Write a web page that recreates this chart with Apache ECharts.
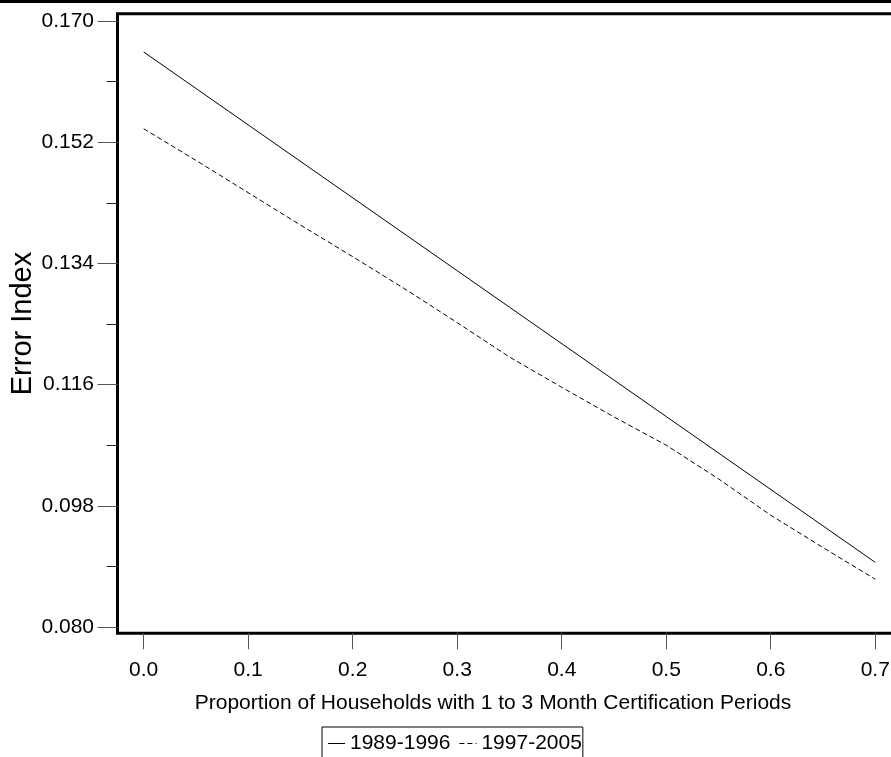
<!DOCTYPE html>
<html>
<head>
<meta charset="utf-8">
<script src="https://cdn.jsdelivr.net/npm/echarts@6/dist/echarts.min.js"></script>
<style>
html, body { margin: 0; padding: 0; background: #fff; }
#chart { width: 891px; height: 757px; }
</style>
</head>
<body>
<div id="chart"></div>
<script>
var FONT = 'Liberation Sans, Arial, sans-serif';

// values
var seriesNames = ['1989-1996', '1997-2005'];
var solidX = [0.0, 0.7];
var solidY = [0.1654, 0.0896];
var dashedX = [0.00, 0.05, 0.10, 0.15, 0.20, 0.25, 0.30, 0.35, 0.40, 0.45, 0.50, 0.55, 0.60, 0.65, 0.70];
var dashedY = [0.1540, 0.1493, 0.1445, 0.1397, 0.1350, 0.1302, 0.1252, 0.1201, 0.1156, 0.1112, 0.1070, 0.1020, 0.0966, 0.0918, 0.0871];
var xTicks = [0, 0.1, 0.2, 0.3, 0.4, 0.5, 0.6, 0.7];
var yTicks = [0.080, 0.098, 0.116, 0.134, 0.152, 0.170];
var yMinorTicks = [0.089, 0.107, 0.125, 0.143, 0.161];

function pairs(xs, ys) {
  return xs.map(function (x, i) { return [x, ys[i]]; });
}

var chart = echarts.init(document.getElementById('chart'));
var option = {
  animation: false,
  backgroundColor: '#fff',
  textStyle: { fontFamily: FONT, color: '#000' },
  graphic: [{
    type: 'rect',
    shape: { x: 0, y: 0, width: 891, height: 3 },
    style: { fill: '#000' }
  }],
  grid: {
    left: 117.5, top: 13.7, width: 810, height: 619.6,
    outerBoundsMode: 'none',
    containLabel: false,
    show: true, borderColor: '#000', borderWidth: 3
  },
  legend: {
    left: 322, top: 727,
    padding: [6, 1, 30, 6],
    itemGap: 9, itemWidth: 17, itemHeight: 14,
    symbolKeepAspect: true,
    borderColor: '#000', borderWidth: 1,
    textStyle: { fontFamily: FONT, fontSize: 21, color: '#000' },
    data: [
      { name: seriesNames[0], icon: 'path://M0,0h17v1h-17z' },
      { name: seriesNames[1], icon: 'path://M0,0h5v1h-5z M8,0h5v1h-5z M16,0h1v1h-1z' }
    ]
  },
  xAxis: {
    type: 'value',
    min: -0.02507, max: 0.75,
    name: 'Proportion of Households with 1 to 3 Month Certification Periods',
    nameLocation: 'middle',
    nameGap: 59,
    nameMoveOverlap: false,
    nameTextStyle: { fontFamily: FONT, fontSize: 21, color: '#000', padding: [0, 59, 0, 0] },
    axisLine: { show: false, onZero: false },
    splitLine: { show: false },
    axisTick: { show: true, inside: false, length: 16, customValues: xTicks, lineStyle: { color: '#555', width: 1 } },
    axisLabel: {
      customValues: xTicks, margin: 26,
      fontFamily: FONT, fontSize: 21, color: '#000',
      formatter: function (v) { return v.toFixed(1); }
    }
  },
  yAxis: [{
    type: 'value',
    min: 0.079064, max: 0.171084,
    name: 'Error Index',
    nameLocation: 'middle',
    nameGap: 80,
    nameMoveOverlap: false,
    nameTextStyle: { fontFamily: FONT, fontSize: 29, color: '#000' },
    axisLine: { show: false, onZero: false },
    splitLine: { show: false },
    axisTick: { show: true, inside: false, length: 20, customValues: yTicks, lineStyle: { color: '#555', width: 1 } },
    axisLabel: {
      customValues: yTicks, margin: 23.5,
      fontFamily: FONT, fontSize: 21, color: '#000',
      formatter: function (v) { return v.toFixed(3); }
    }
  }, {
    type: 'value',
    position: 'left',
    min: 0.079064, max: 0.171084,
    axisLine: { show: false, onZero: false },
    splitLine: { show: false },
    axisLabel: { show: false },
    axisTick: { show: true, inside: false, length: 11, customValues: yMinorTicks, lineStyle: { color: '#222', width: 1 } }
  }],
  series: [{
    name: seriesNames[0],
    type: 'line',
    symbol: 'none',
    lineStyle: { color: '#000', width: 1, type: 'solid' },
    itemStyle: { color: '#000' },
    data: pairs(solidX, solidY)
  }, {
    name: seriesNames[1],
    type: 'line',
    symbol: 'none',
    lineStyle: { color: '#000', width: 1, type: [5, 3] },
    itemStyle: { color: '#000' },
    data: pairs(dashedX, dashedY)
  }]
};
chart.setOption(option);
window.onresize = chart.resize;
</script>
</body>
</html>
